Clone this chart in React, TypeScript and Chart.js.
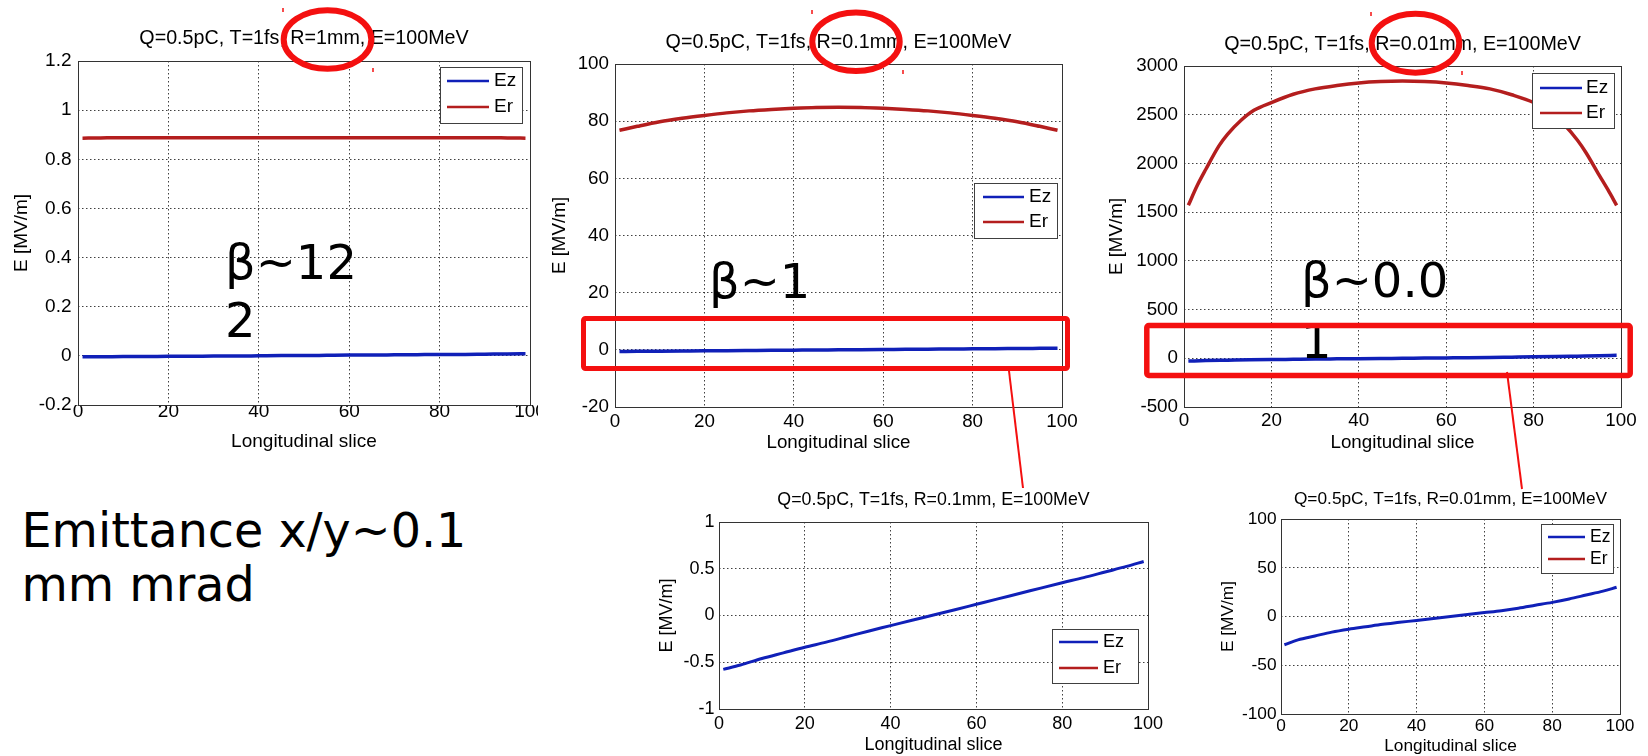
import React, { useEffect, useRef } from 'react';
import { Chart, registerables } from 'chart.js';

Chart.register(...registerables);
Chart.defaults.font.family = '"Liberation Sans", Arial, sans-serif';
Chart.defaults.color = '#000';

// ---------------- data ----------------
const SLICES = [1, 5, 10, 15, 20, 25, 30, 35, 40, 45, 50, 55, 60, 65, 70, 75, 80, 85, 90, 95, 99];
const SLICES_FINE = [1, 3, 5, 8, 10, 13, 16, 20, 25, 30, 35, 40, 45, 50, 55, 60, 65, 70, 75, 80, 84, 87, 90, 92, 95, 97, 99];

const EZ_R1 = [-0.004, -0.004, -0.003, -0.003, -0.002, -0.002, -0.001, -0.001, 0.0, 0.001, 0.001, 0.002, 0.003, 0.003, 0.004, 0.005, 0.006, 0.006, 0.007, 0.008, 0.009];
const ER_R1 = [0.886, 0.887, 0.888, 0.888, 0.888, 0.888, 0.888, 0.888, 0.888, 0.888, 0.888, 0.888, 0.888, 0.888, 0.888, 0.888, 0.888, 0.888, 0.888, 0.887, 0.886];

const EZ_R01 = [-0.576, -0.53, -0.46, -0.4, -0.34, -0.285, -0.225, -0.165, -0.108, -0.05, 0.005, 0.062, 0.12, 0.178, 0.235, 0.293, 0.35, 0.405, 0.465, 0.525, 0.578];
const ER_R01 = [76.8, 78.2, 79.8, 81.0, 82.0, 82.9, 83.6, 84.1, 84.5, 84.8, 84.9, 84.8, 84.5, 84.1, 83.6, 82.9, 82.0, 81.0, 79.8, 78.2, 76.8];

const EZ_R001 = [-29, -24, -20, -16, -13, -10.5, -8, -6, -4, -2, 0, 2, 4, 6, 8.5, 11.5, 14.5, 18, 22, 26, 30];
const ER_R001 = [1570, 1770, 1940, 2180, 2300, 2440, 2545, 2625, 2710, 2765, 2800, 2826, 2840, 2845, 2840, 2826, 2800, 2765, 2705, 2625, 2520, 2400, 2240, 2110, 1880, 1730, 1570];

const SERIES_NAMES = ['Ez', 'Er'];
const X_LABEL = 'Longitudinal slice';
const Y_LABEL = 'E [MV/m]';
const TITLE_R1 = 'Q=0.5pC, T=1fs, R=1mm, E=100MeV';
const TITLE_R01 = 'Q=0.5pC, T=1fs, R=0.1mm, E=100MeV';
const TITLE_R001 = 'Q=0.5pC, T=1fs, R=0.01mm, E=100MeV';
const X_RANGE = [0, 100, 20];
const Y_RANGE_R1 = [-0.2, 1.2, 0.2];
const Y_RANGE_R01 = [-20, 100, 20];
const Y_RANGE_R001 = [-500, 3000, 500];
const Y_RANGE_ZOOM_R01 = [-1, 1, 0.5];
const Y_RANGE_ZOOM_R001 = [-100, 100, 50];

// ---------------- styles ----------------
const BLUE = '#1020b8';
const RED = '#b41e1e';
const GRID = 'rgba(30,30,30,0.85)';
const AXIS = '#333333';
const ANNOT = '#f41010';

type Spec = {
  key: string;
  title: string;
  ezX: number[]; ez: number[];
  erX: number[]; er: number[];
  yRange: number[];
  canvas: number[]; plot: number[];
  yTitleX: number; xTitleY: number; titleY: number; xLabelY: number;
  fs: number; titleFs: number; yPad: number; lw: number;
  legend: { box: number[]; line: number[]; rows: number[]; textX: number; fs: number };
};

const SPECS: Spec[] = [
  {
    key: 'r1', title: TITLE_R1, ezX: SLICES, ez: EZ_R1, erX: SLICES, er: ER_R1, yRange: Y_RANGE_R1,
    canvas: [0, 20, 538, 460], plot: [78, 61, 530, 405],
    yTitleX: 22, xTitleY: 442, titleY: 38.5, xLabelY: 412.2,
    fs: 19, titleFs: 19.7, yPad: 6.5, lw: 3.5,
    legend: { box: [440, 67, 522, 123], line: [447, 489], rows: [81, 107], textX: 494, fs: 19 },
  },
  {
    key: 'r01', title: TITLE_R01, ezX: SLICES, ez: EZ_R01, erX: SLICES, er: ER_R01, yRange: Y_RANGE_R01,
    canvas: [538, 20, 1098, 460], plot: [615, 64, 1062, 407],
    yTitleX: 560, xTitleY: 443.3, titleY: 42.6, xLabelY: 422.2,
    fs: 18.8, titleFs: 19.7, yPad: 6, lw: 3.5,
    legend: { box: [974, 183, 1057, 238], line: [983, 1024], rows: [197, 222], textX: 1029, fs: 19 },
  },
  {
    key: 'r001', title: TITLE_R001, ezX: SLICES, ez: EZ_R001, erX: SLICES_FINE, er: ER_R001, yRange: Y_RANGE_R001,
    canvas: [1098, 20, 1648, 460], plot: [1184, 66, 1621, 407],
    yTitleX: 1117, xTitleY: 442.7, titleY: 44.8, xLabelY: 420.5,
    fs: 18.8, titleFs: 19.7, yPad: 6, lw: 3.5,
    legend: { box: [1532, 73, 1614, 128], line: [1540, 1582], rows: [88, 113], textX: 1586, fs: 19 },
  },
  {
    key: 'z01', title: TITLE_R01, ezX: SLICES, ez: EZ_R01, erX: SLICES, er: ER_R01, yRange: Y_RANGE_ZOOM_R01,
    canvas: [640, 480, 1170, 756], plot: [719, 522, 1148, 709],
    yTitleX: 666.7, xTitleY: 745, titleY: 500.3, xLabelY: 723.8,
    fs: 18, titleFs: 17.8, yPad: 4.5, lw: 3,
    legend: { box: [1052, 629, 1138, 683], line: [1059, 1098], rows: [642, 668], textX: 1103, fs: 18 },
  },
  {
    key: 'z001', title: TITLE_R001, ezX: SLICES, ez: EZ_R001, erX: SLICES_FINE, er: ER_R001, yRange: Y_RANGE_ZOOM_R001,
    canvas: [1190, 480, 1648, 756], plot: [1281, 519, 1620, 714],
    yTitleX: 1228, xTitleY: 746.3, titleY: 499.3, xLabelY: 726.7,
    fs: 17.3, titleFs: 17.3, yPad: 4.5, lw: 3,
    legend: { box: [1541, 524, 1613, 573], line: [1548, 1585], rows: [537, 559], textX: 1590, fs: 17.5 },
  },
];

const pts = (xs: number[], ys: number[]) => xs.map((x, i) => ({ x, y: ys[i] }));
const fmt = (v: any) => String(Math.round(Number(v) * 10000) / 10000);

function LineChart({ spec }: { spec: Spec }) {
  const ref = useRef<HTMLCanvasElement>(null);
  const [x0, y0, x1, y1] = spec.canvas;
  useEffect(() => {
    const [L, T, R, B] = spec.plot;
    const decor = {
      id: 'decor_' + spec.key,
      afterDatasetsDraw(chart: any) {
        const ctx = chart.ctx as CanvasRenderingContext2D;
        const a = chart.chartArea;
        ctx.save();
        ctx.setLineDash([]);
        // axes box
        ctx.strokeStyle = AXIS;
        ctx.lineWidth = 1;
        ctx.strokeRect(L - x0 + 0.5, T - y0 + 0.5, R - L, B - T);
        // legend
        const lg = spec.legend;
        const [bx0, by0, bx1, by1] = lg.box;
        ctx.fillStyle = '#fff';
        ctx.fillRect(bx0 - x0, by0 - y0, bx1 - bx0, by1 - by0);
        ctx.strokeStyle = '#404040';
        ctx.lineWidth = 1;
        ctx.strokeRect(bx0 - x0 + 0.5, by0 - y0 + 0.5, bx1 - bx0, by1 - by0);
        chart.data.datasets.forEach((ds: any, i: number) => {
          const y = lg.rows[i] - y0;
          ctx.strokeStyle = ds.borderColor;
          ctx.lineWidth = 2.5;
          ctx.beginPath();
          ctx.moveTo(lg.line[0] - x0, y);
          ctx.lineTo(lg.line[1] - x0, y);
          ctx.stroke();
          ctx.fillStyle = '#000';
          ctx.font = `${lg.fs}px "Liberation Sans", Arial, sans-serif`;
          ctx.textAlign = 'left';
          ctx.textBaseline = 'middle';
          ctx.fillText(ds.label, lg.textX - x0, y);
        });
        // title
        ctx.fillStyle = '#000';
        ctx.font = `${spec.titleFs}px "Liberation Sans", Arial, sans-serif`;
        ctx.textAlign = 'center';
        ctx.textBaseline = 'middle';
        ctx.fillText(spec.title, (a.left + a.right) / 2, spec.titleY - y0);
        ctx.restore();
      },
    };
    const [ymin, ymax, ystep] = spec.yRange;
    const [xmin, xmax, xstep] = X_RANGE;
    const grid = { color: GRID, lineWidth: 1, drawTicks: false };
    const border = { display: false, dash: [1.5, 2.5] };
    const chart = new Chart(ref.current as HTMLCanvasElement, {
      type: 'line',
      data: {
        datasets: [
          {
            label: SERIES_NAMES[0], data: pts(spec.ezX, spec.ez), borderColor: BLUE, backgroundColor: BLUE,
            borderWidth: spec.lw, pointRadius: 0, cubicInterpolationMode: 'monotone', fill: false,
          },
          {
            label: SERIES_NAMES[1], data: pts(spec.erX, spec.er), borderColor: RED, backgroundColor: RED,
            borderWidth: spec.lw, pointRadius: 0, cubicInterpolationMode: 'monotone', fill: false,
          },
        ],
      },
      options: {
        responsive: false,
        maintainAspectRatio: false,
        animation: false,
        devicePixelRatio: 1,
        parsing: false,
        layout: { autoPadding: false, padding: { left: 0, top: T - y0, right: x1 - R, bottom: 0 } },
        plugins: { legend: { display: false }, tooltip: { enabled: false }, title: { display: false } },
        scales: {
          x: {
            type: 'linear', min: xmin, max: xmax,
            ticks: {
              stepSize: xstep, autoSkip: false, maxRotation: 0, minRotation: 0, color: '#000',
              padding: spec.xLabelY - B - spec.fs / 2, font: { size: spec.fs, lineHeight: 1 }, callback: fmt,
            },
            grid, border,
            title: {
              display: true, text: X_LABEL, color: '#000', font: { size: spec.fs, lineHeight: 1 },
              padding: { top: 0, bottom: y1 - spec.xTitleY - spec.fs / 2 },
            },
            afterFit: (s: any) => { s.height = y1 - B; s.paddingLeft = 0; s.paddingRight = 0; },
          },
          y: {
            type: 'linear', min: ymin, max: ymax,
            ticks: {
              stepSize: ystep, autoSkip: false, color: '#000', padding: spec.yPad,
              font: { size: spec.fs }, callback: fmt,
            },
            grid, border,
            title: {
              display: true, text: Y_LABEL, color: '#000', font: { size: spec.fs, lineHeight: 1 },
              padding: { top: spec.yTitleX - x0 - spec.fs / 2, bottom: 0 },
            },
            afterFit: (s: any) => { s.width = L - x0; s.paddingTop = 0; s.paddingBottom = 0; },
          },
        },
      } as any,
      plugins: [decor],
    });
    return () => chart.destroy();
  }, [spec]);
  return (
    <canvas
      ref={ref}
      width={x1 - x0}
      height={y1 - y0}
      style={{ position: 'absolute', left: x0, top: y0, width: x1 - x0, height: y1 - y0, display: 'block' }}
    />
  );
}

const bigText: React.CSSProperties = {
  position: 'absolute',
  fontFamily: '"DejaVu Sans", sans-serif',
  color: '#000',
  whiteSpace: 'nowrap',
  margin: 0,
};

export default function App() {
  return (
    <div style={{ position: 'absolute', left: 0, top: 0, width: 1648, height: 756, overflow: 'hidden', background: '#fff' }}>
      {SPECS.map((s) => (
        <LineChart key={s.key} spec={s} />
      ))}
      <div style={{ ...bigText, left: 225, top: 234, fontSize: 48, lineHeight: '57.6px' }}>
        β~12<br />2
      </div>
      <div style={{ ...bigText, left: 709, top: 253, fontSize: 48, lineHeight: '57.6px' }}>β~1</div>
      <div style={{ ...bigText, left: 1301, top: 252.3, fontSize: 48, lineHeight: '57.6px' }}>
        β~0.0<br />
        <span style={{ position: 'relative', top: 3 }}>1</span>
      </div>
      <div style={{ ...bigText, left: 21.5, top: 503.5, fontSize: 47.6, lineHeight: '54.4px' }}>
        Emittance x/y~0.1<br />mm mrad
      </div>
      <svg
        width={1648}
        height={756}
        style={{ position: 'absolute', left: 0, top: 0, pointerEvents: 'none' }}
      >
        <ellipse cx={327.5} cy={39.5} rx={43.8} ry={29.2} fill="none" stroke={ANNOT} strokeWidth={6} />
        <ellipse cx={856} cy={41.7} rx={43.7} ry={29.3} fill="none" stroke={ANNOT} strokeWidth={6} />
        <ellipse cx={1415.5} cy={43.2} rx={43.8} ry={29.5} fill="none" stroke={ANNOT} strokeWidth={6} />
        <line x1={283} y1={8} x2={283} y2={12} stroke={ANNOT} strokeWidth={1.5} />
        <line x1={373} y1={68} x2={373} y2={72} stroke={ANNOT} strokeWidth={1.5} />
        <line x1={812} y1={10} x2={812} y2={14} stroke={ANNOT} strokeWidth={1.5} />
        <line x1={903} y1={70} x2={903} y2={74} stroke={ANNOT} strokeWidth={1.5} />
        <line x1={1371} y1={12} x2={1371} y2={16} stroke={ANNOT} strokeWidth={1.5} />
        <line x1={1462} y1={71} x2={1462} y2={75} stroke={ANNOT} strokeWidth={1.5} />
        <rect x={583.5} y={318.5} width={484} height={50} rx={2} fill="none" stroke={ANNOT} strokeWidth={5} />
        <rect x={1146.8} y={325.5} width={483.4} height={50} rx={2} fill="none" stroke={ANNOT} strokeWidth={5.5} />
        <line x1={1009} y1={371} x2={1023} y2={488} stroke={ANNOT} strokeWidth={2} />
        <line x1={1507} y1={372} x2={1522} y2={489} stroke={ANNOT} strokeWidth={2} />
      </svg>
    </div>
  );
}
